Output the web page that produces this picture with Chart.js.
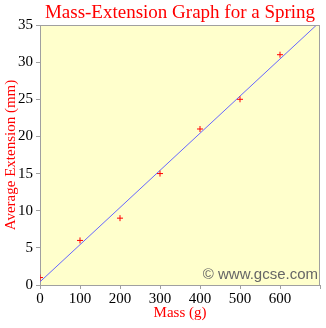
<!DOCTYPE html>
<html>
<head>
<meta charset="utf-8">
<script src="https://cdn.jsdelivr.net/npm/chart.js@4"></script>
<style>
  html, body { margin: 0; padding: 0; background: #fff; }
  #wrap { width: 326px; height: 328px; }
</style>
</head>
<body>
<div id="wrap"><canvas id="spring"></canvas></div>
<script>
const masses = [0, 100, 200, 300, 400, 500, 600];
const extensions = [1, 6, 9, 15, 21, 25, 31];
const massRange = [0, 700];
const extensionRange = [0, 35];

(function() {

  const serif = "'Liberation Serif', 'Times New Roman', serif";
  const axisGrey = '#a0a0a0';

  // least-squares line through the readings
  const n = masses.length;
  const mx = masses.reduce((a, b) => a + b, 0) / n;
  const my = extensions.reduce((a, b) => a + b, 0) / n;
  let sxy = 0, sxx = 0;
  masses.forEach((m, i) => {
    sxy += (m - mx) * (extensions[i] - my);
    sxx += (m - mx) * (m - mx);
  });
  const slope = sxy / sxx;
  const intercept = my - slope * mx;
  const fitLine = massRange.map(m => ({ x: m, y: intercept + slope * m }));

  const plotBox = {
    id: 'plotBox',
    beforeDraw(chart) {
      const { ctx, chartArea: a } = chart;
      ctx.save();
      ctx.fillStyle = '#ffffcc';
      ctx.fillRect(a.left, a.top, a.right - a.left, a.bottom - a.top);
      ctx.restore();
    },
    afterDatasetsDraw(chart) {
      const { ctx, chartArea: a } = chart;
      ctx.save();
      ctx.strokeStyle = axisGrey;
      ctx.lineWidth = 1;
      ctx.beginPath();
      ctx.moveTo(a.left, a.top + 0.5);
      ctx.lineTo(a.right, a.top + 0.5);
      ctx.moveTo(a.right - 0.5, a.top);
      ctx.lineTo(a.right - 0.5, a.bottom);
      ctx.stroke();

      // watermark
      ctx.fillStyle = '#666666';
      ctx.font = "15px 'Liberation Sans', Arial, sans-serif";
      ctx.textAlign = 'right';
      ctx.textBaseline = 'alphabetic';
      ctx.fillText('\u00a9 www.gcse.com', a.right - 2, a.bottom - 6);

      // heading
      ctx.fillStyle = '#ff0000';
      ctx.font = '19px ' + serif;
      ctx.textAlign = 'center';
      ctx.fillText('Mass-Extension Graph for a Spring', (a.left + a.right) / 2, 18);
      ctx.restore();
    }
  };

  const ctx = document.getElementById('spring').getContext('2d');
  new Chart(ctx, {
    type: 'scatter',
    data: {
      datasets: [{
        data: fitLine,
        showLine: true,
        borderColor: '#6666ff',
        borderWidth: 1,
        pointRadius: 0,
        order: 2
      }, {
        data: masses.map((m, i) => ({ x: m, y: extensions[i] })),
        pointStyle: 'cross',
        pointRadius: 3,
        borderColor: '#ff0000',
        borderWidth: 1,
        order: 1
      }]
    },
    options: {
      responsive: true,
      maintainAspectRatio: false,
      animation: false,
      layout: { padding: { top: 25, right: 6, left: 0, bottom: 0 } },
      plugins: {
        legend: { display: false },
        tooltip: { enabled: false }
      },
      scales: {
        x: {
          type: 'linear',
          min: massRange[0],
          max: massRange[1],
          ticks: {
            stepSize: 100,
            color: '#000',
            font: { family: serif, size: 15 },
            padding: 1,
            maxRotation: 0,
            callback: v => (v >= massRange[1] ? '' : v)
          },
          grid: { drawOnChartArea: false, tickLength: 4, color: axisGrey },
          border: { color: axisGrey },
          title: {
            display: true,
            text: 'Mass (g)',
            color: '#ff0000',
            font: { family: serif, size: 15 },
            padding: { top: 0, bottom: 6 }
          },
          afterFit(scale) { scale.height = 43; }
        },
        y: {
          type: 'linear',
          min: extensionRange[0],
          max: extensionRange[1],
          ticks: {
            stepSize: 5,
            color: '#000',
            font: { family: serif, size: 15 },
            padding: 3
          },
          grid: { drawOnChartArea: false, tickLength: 4, color: axisGrey },
          border: { color: axisGrey },
          title: {
            display: true,
            text: 'Average Extension (mm)',
            color: '#ff0000',
            font: { family: serif, size: 15 },
            padding: { top: 2, bottom: 0 }
          },
          afterFit(scale) { scale.width = 40; }
        }
      }
    },
    plugins: [plotBox]
  });
})();
</script>
</body>
</html>
